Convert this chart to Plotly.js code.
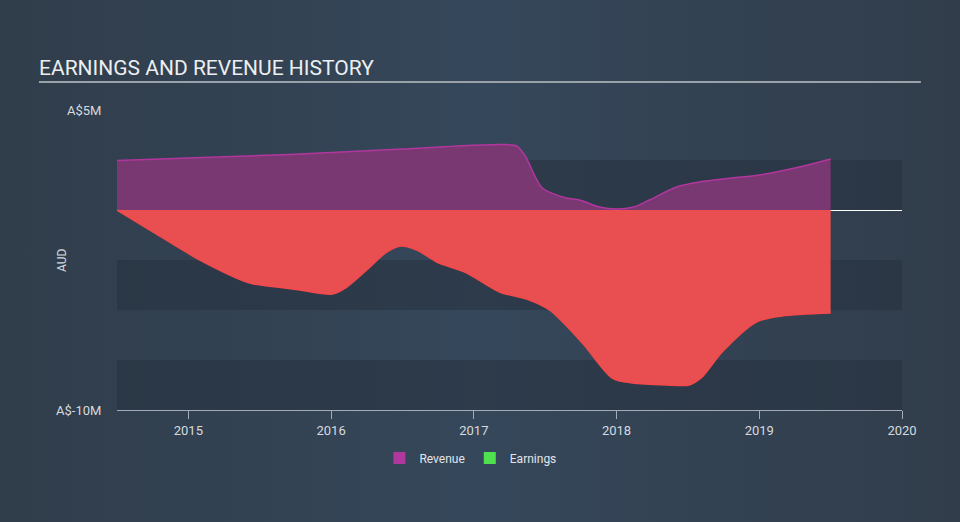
<!DOCTYPE html>
<html>
<head>
<meta charset="utf-8">
<script src="https://cdn.plot.ly/plotly-3.0.1.min.js"></script>
<style>
html,body{margin:0;padding:0;width:960px;height:522px;overflow:hidden;
background:linear-gradient(90deg,#303d4b 0%,#35475a 50%,#313d4b 100%);}
#chart{width:960px;height:522px;}
</style>
</head>
<body>
<div id="chart"></div>
<script>
// Revenue (A$ millions) by fractional year
const revenueYears = [2014.5, 2015.0, 2015.5, 2016.0, 2016.5, 2017.0, 2017.22, 2017.3, 2017.36, 2017.48, 2017.65, 2017.74, 2017.88, 2018.0, 2018.12, 2018.23, 2018.42, 2018.58, 2018.81, 2019.0, 2019.28, 2019.5];
const revenueValues = [2.47, 2.6, 2.72, 2.87, 3.05, 3.24, 3.27, 3.2, 2.7, 1.1, 0.6, 0.5, 0.15, 0.05, 0.15, 0.5, 1.15, 1.4, 1.6, 1.75, 2.15, 2.55];

// Earnings (A$ millions) by fractional year
const earningsYears = [2014.5, 2014.73, 2015.08, 2015.43, 2015.62, 2015.78, 2016.01, 2016.11, 2016.25, 2016.39, 2016.49, 2016.6, 2016.74, 2016.95, 2017.18, 2017.37, 2017.53, 2017.76, 2017.97, 2018.11, 2018.35, 2018.51, 2018.6, 2018.74, 2018.98, 2019.16, 2019.5];
const earningsValues = [0, -1.0, -2.5, -3.65, -3.85, -4.0, -4.2, -3.85, -3.0, -2.1, -1.8, -2.0, -2.6, -3.15, -4.1, -4.45, -5.0, -6.65, -8.4, -8.65, -8.75, -8.75, -8.35, -7.1, -5.6, -5.3, -5.15];

const xTickVals = [2015, 2016, 2017, 2018, 2019, 2020];
const xTickText = ['2015', '2016', '2017', '2018', '2019', '2020'];
const yTickVals = [5, -10];
const yTickText = ['A$5M', 'A$-10M'];
const bandRanges = [[0, 2.5], [-5, -2.5], [-10, -7.5]];

const traces = [
  {
    x: revenueYears, y: revenueValues, type: 'scatter', mode: 'lines',
    line: {color: '#b1379e', width: 1.5, shape: 'spline', smoothing: 0.8},
    fill: 'tozeroy', fillcolor: '#7a3873', showlegend: false, hoverinfo: 'skip'
  },
  {
    x: earningsYears, y: earningsValues, type: 'scatter', mode: 'lines',
    line: {color: '#f24a4c', width: 1.5, shape: 'spline', smoothing: 0.8},
    fill: 'tozeroy', fillcolor: '#e94f51', showlegend: false, hoverinfo: 'skip'
  },
  {x: [null], y: [null], type: 'bar', name: 'Revenue', marker: {color: '#b0389c'}},
  {x: [null], y: [null], type: 'bar', name: 'Earnings', marker: {color: '#4fe04f'}}
];

const shapes = bandRanges.map(r => ({
  type: 'rect', xref: 'paper', yref: 'y', x0: 0, x1: 1, y0: r[0], y1: r[1],
  fillcolor: 'rgba(38,50,64,0.55)', line: {width: 0}, layer: 'below'
}));
shapes.push({
  type: 'line', xref: 'paper', yref: 'paper', x0: -0.0994, x1: 1.024, y0: 1.0933, y1: 1.0933,
  line: {color: '#9aa1a9', width: 2}
});

const layout = {
  width: 960, height: 522,
  margin: {l: 117, r: 58, t: 110, b: 112},
  paper_bgcolor: 'rgba(0,0,0,0)',
  plot_bgcolor: 'rgba(0,0,0,0)',
  font: {family: 'Roboto, sans-serif', color: '#d6dadf', size: 12},
  title: {
    text: 'EARNINGS AND REVENUE HISTORY',
    xref: 'container', yref: 'container', x: 39 / 960, xanchor: 'left',
    y: 1 - 68 / 522, yanchor: 'middle',
    font: {family: 'Roboto, sans-serif', size: 21, color: '#eceef0'}
  },
  xaxis: {
    range: [2014.5, 2020], tickvals: xTickVals, ticktext: xTickText,
    showgrid: false, zeroline: false, showline: true, linecolor: '#a3acb6', linewidth: 1,
    ticks: 'outside', ticklen: 8, tickcolor: '#a3acb6', tickwidth: 1,
    tickfont: {size: 13, color: '#d6dadf'}, fixedrange: true
  },
  yaxis: {
    range: [-10, 5], tickvals: yTickVals, ticktext: yTickText,
    showgrid: false, zeroline: true, zerolinecolor: '#ffffff', zerolinewidth: 1,
    showline: false, ticks: 'outside', ticklen: 12, tickcolor: 'rgba(0,0,0,0)',
    tickfont: {size: 13, color: '#d6dadf'},
    fixedrange: true
  },
  annotations: [{
    text: 'AUD', xref: 'paper', yref: 'paper', x: -0.0701, y: 0.5,
    xanchor: 'center', yanchor: 'middle', textangle: -90, showarrow: false,
    font: {size: 12, color: '#d6dadf'}
  }],
  showlegend: true,
  legend: {
    orientation: 'h', xref: 'container', yref: 'container',
    x: 0.49, xanchor: 'center', y: 1 - 458 / 522, yanchor: 'middle',
    font: {size: 12, color: '#e2e5e8'}, bgcolor: 'rgba(0,0,0,0)',
    itemclick: false, itemdoubleclick: false
  },
  shapes: shapes,
  barmode: 'overlay'
};

Plotly.newPlot('chart', traces, layout, {displayModeBar: false, staticPlot: true});
</script>
</body>
</html>
